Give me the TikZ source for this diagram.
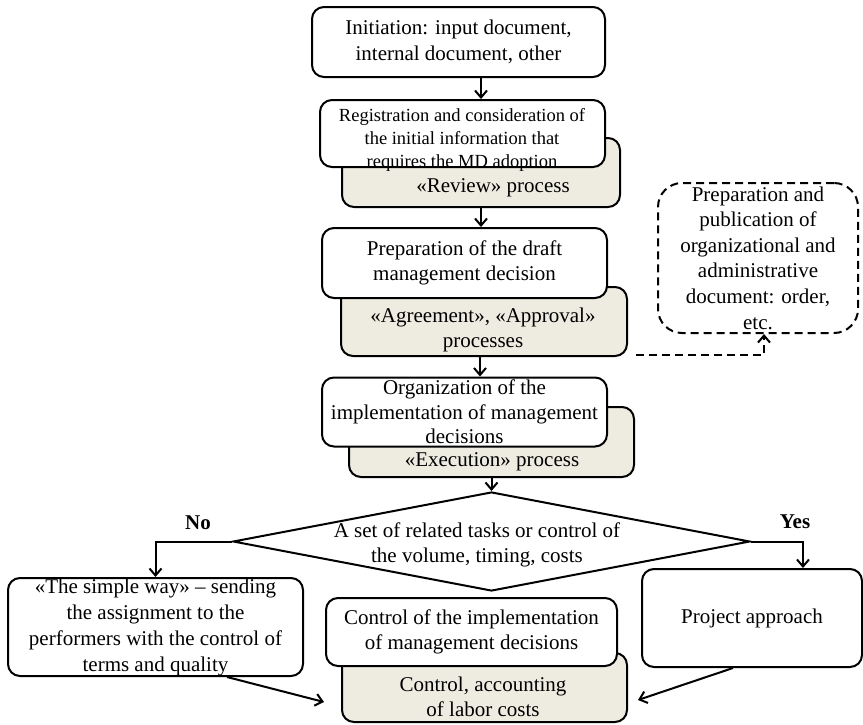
\documentclass[tikz,border=0pt]{standalone}
\usepackage{fontspec}
\setmainfont{Liberation Serif}
\usetikzlibrary{arrows.meta,shapes.geometric}
\definecolor{graybox}{RGB}{238,236,225}
\begin{document}
\begin{tikzpicture}[x=1pt,y=-1pt,
  box/.style={draw,line width=2pt,rounded corners=12pt,fill=white,inner sep=0pt,align=center,font=\fontsize{21}{25.5}\selectfont},
  gbox/.style={box,fill=graybox},
  txt/.style={align=center,inner sep=0pt,font=\fontsize{21}{25.5}\selectfont},
  dbox/.style={draw,line width=2pt,dash pattern=on 8pt off 5pt,rounded corners=24pt,inner sep=0pt,align=center,font=\fontsize{21}{25.6}\selectfont},
  arr/.style={line width=2pt,-{Straight Barb[length=7pt,width=12pt]}},
  darr/.style={arr,dash pattern=on 8pt off 5pt},
  lbl/.style={inner sep=0pt,font=\fontsize{21}{25}\selectfont\bfseries},
]
\useasboundingbox (0,0) rectangle (863,724);

% top
\node[box,minimum width=293pt,minimum height=70pt] (init) at (458.5,42) {Initiation: input document,\\ internal document, other};

\node[gbox,minimum width=278pt,minimum height=69pt] (review) at (481,172.5) {};
\node[box,minimum width=285pt,minimum height=67pt] (reg) at (462.5,133.5) {};
\node[txt,font=\fontsize{18.5}{23}\selectfont] (treg) at (462,140) {Registration and consideration of\\ the initial information that\\ requires the MD adoption};
\node[txt] (treview) at (493,188) {«Review» process};

\node[gbox,minimum width=286pt,minimum height=69pt] (agree) at (484,321.5) {};
\node[box,minimum width=285pt,minimum height=70pt] (draft) at (464.5,263) {Preparation of the draft\\ management decision};
\node[txt] (tagree) at (483,330) {«Agreement», «Approval»\\ processes};

\node[gbox,minimum width=285pt,minimum height=70pt] (exec) at (491.5,442) {};
\node[box,minimum width=285pt,minimum height=69pt,font=\fontsize{21}{24.5}\selectfont] (org) at (464.5,412) {Organization of the\\ implementation of management\\ decisions};
\node[txt] (texec) at (492,462) {«Execution» process};

\node[dbox,minimum width=200pt,minimum height=150pt] (note) at (758,258) {Preparation and\\ publication of\\ organizational and\\ administrative\\ document: order,\\ etc.};

% decision
\node[draw,line width=2pt,shape=diamond,inner sep=0pt,minimum width=517pt,minimum height=99pt] (dia) at (491.5,541.5) {};
\node[txt] (tdia) at (477,545) {A set of related tasks or control of\\ the volume, timing, costs};
\node[lbl] (no) at (198,523) {No};
\node[lbl] (yes) at (795,522) {Yes};

% bottom
\node[box,minimum width=295pt,minimum height=98pt,font=\fontsize{21}{26}\selectfont] (left) at (155.5,627) {«The simple way» – sending\\ the assignment to the\\ performers with the control of\\ terms and quality};
\node[box,minimum width=220pt,minimum height=98pt] (proj) at (752,618) {Project approach};
\node[gbox,minimum width=285pt,minimum height=69pt] (ctrlg) at (484.5,687.5) {};
\node[box,minimum width=291pt,minimum height=68pt] (ctrl) at (471.5,632) {Control of the implementation\\ of management decisions};
\node[txt] (tctrlg) at (483,697) {Control, accounting\\ of labor costs};

% connectors
\draw[arr] (review.center |- init.south) -- (review.center |- reg.north);
\draw[arr] (review.south) -- (review.south |- draft.north);
\draw[arr] ([xshift=-4pt]agree.south) -- ([xshift=-4pt]agree.south |- org.north);
\draw[arr] (exec.south) -- (exec.south |- dia.north);
\draw[darr] ([xshift=8pt,yshift=2pt]agree.south east) -| ([xshift=6pt]note.south);
\draw[arr] (dia.west) -| (left.north);
\draw[arr] (dia.east) -| ([xshift=51pt]proj.north);
\draw[arr] ([xshift=71.5pt]left.south) -- ([xshift=-17pt,yshift=-14.5pt]ctrlg.west);
\draw[arr] ([xshift=-19pt]proj.south) -- ([xshift=10pt,yshift=-12.5pt]ctrlg.east);
\end{tikzpicture}
\end{document}
